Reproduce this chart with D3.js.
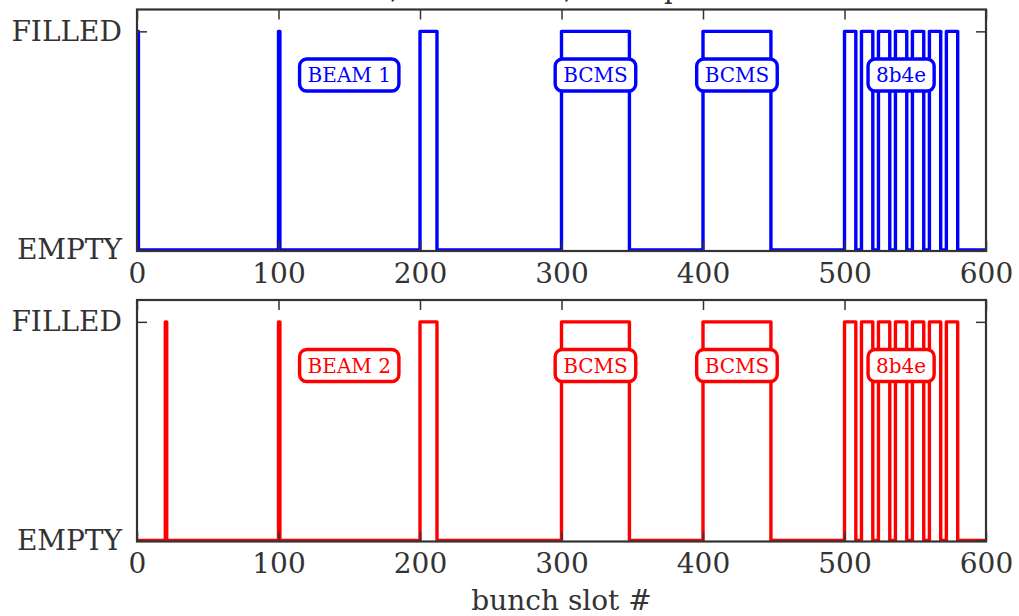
<!DOCTYPE html>
<html>
<head>
<meta charset="utf-8">
<script src="https://cdn.jsdelivr.net/npm/d3@7"></script>
<style>
  body { margin: 0; background: #fff; }
  svg { display: block; }
  text { font-family: "DejaVu Serif", serif; }
</style>
</head>
<body>
<svg id="chart" width="1019" height="616"></svg>
<script>
// Axis ticks
const slotTicks = [0, 100, 200, 300, 400, 500, 600];
const levelValues = [0, 1];
const levelNames = ["EMPTY", "FILLED"];

// Bunch trains per beam: first slot and number of bunches
const beam1Starts  = [0, 100, 200, 300, 400, 500, 512, 524, 536, 548, 560, 572];
const beam1Lengths = [1, 1, 12, 48, 48, 8, 8, 8, 8, 8, 8, 8];
const beam2Starts  = [20, 100, 200, 300, 400, 500, 512, 524, 536, 548, 560, 572];
const beam2Lengths = [1, 1, 12, 48, 48, 8, 8, 8, 8, 8, 8, 8];

// Train annotations
const beam1Labels = ["BEAM 1", "BCMS", "BCMS", "8b4e"];
const beam2Labels = ["BEAM 2", "BCMS", "BCMS", "8b4e"];
const labelSlots  = [150, 324, 424, 540];
const labelLevel  = 0.8;

const svg = d3.select("#chart");
const left = 137, right = 986, panelH = 241.5;
const ink = "#333";

const x = d3.scaleLinear().domain([0, 600]).range([left, right]);

// title (sits mostly above the page)
svg.append("text")
  .attr("x", 193).attr("y", -2.5)
  .attr("font-size", 27).attr("fill", ink)
  .text("Mixed scheme, bunch slots, 25 ns per beam");

function trainPoints(starts, lengths) {
  const pts = [[0, 0]];
  starts.forEach((s, i) => {
    const e = s + lengths[i];
    pts.push([s, 0], [s, 1], [e, 1], [e, 0]);
  });
  pts.push([600, 0]);
  return pts;
}

function panel(id, top, starts, lengths, labels, color) {
  const bottom = top + panelH;
  const y = d3.scaleLinear().domain([-0.005, 1.1]).range([bottom, top]);
  const g = svg.append("g");

  g.append("clipPath").attr("id", "clip" + id)
    .append("rect").attr("x", left).attr("y", top)
    .attr("width", right - left).attr("height", bottom - top);

  const line = d3.line().x(d => x(d[0])).y(d => y(d[1]));
  g.append("path")
    .datum(trainPoints(starts, lengths))
    .attr("clip-path", `url(#clip${id})`)
    .attr("d", line)
    .attr("fill", "none")
    .attr("stroke", color)
    .attr("stroke-width", 3.4)
    .attr("stroke-linejoin", "round");

  // annotations
  labels.forEach((t, i) => {
    const cx = x(labelSlots[i]), cy = y(labelLevel);
    const lg = g.append("g");
    const txt = lg.append("text")
      .attr("x", cx).attr("y", cy)
      .attr("text-anchor", "middle")
      .attr("dominant-baseline", "central")
      .attr("font-size", 20)
      .attr("fill", color)
      .text(t);
    const w = txt.node().getComputedTextLength();
    lg.insert("rect", "text")
      .attr("x", cx - w / 2 - 8).attr("y", cy - 16)
      .attr("width", w + 16).attr("height", 32)
      .attr("rx", 7).attr("ry", 7)
      .attr("fill", "#fff")
      .attr("stroke", color)
      .attr("stroke-width", 3.4);
  });

  // axes with inward ticks
  const ax = g.append("g").attr("transform", `translate(0,${bottom})`)
    .call(d3.axisBottom(x).tickValues(slotTicks).tickFormat(d3.format("d"))
      .tickSizeInner(-10).tickSizeOuter(0).tickPadding(12));
  const axTop = g.append("g").attr("transform", `translate(0,${top})`)
    .call(d3.axisTop(x).tickValues(slotTicks).tickFormat("")
      .tickSizeInner(-10).tickSizeOuter(0));
  const ay = g.append("g").attr("transform", `translate(${left},0)`)
    .call(d3.axisLeft(y).tickValues(levelValues).tickFormat((d, i) => levelNames[i])
      .tickSizeInner(-10).tickSizeOuter(0).tickPadding(15));
  const ayR = g.append("g").attr("transform", `translate(${right},0)`)
    .call(d3.axisRight(y).tickValues(levelValues).tickFormat("")
      .tickSizeInner(-10).tickSizeOuter(0));

  [ax, axTop, ay, ayR].forEach(a => {
    a.select(".domain").remove();
    a.selectAll(".tick line").attr("stroke", ink).attr("stroke-width", 1.5);
    a.selectAll(".tick text").attr("font-size", 28).attr("fill", ink)
      .attr("font-family", "DejaVu Serif");
  });

  g.append("rect")
    .attr("x", left).attr("y", top)
    .attr("width", right - left).attr("height", bottom - top)
    .attr("fill", "none").attr("stroke", ink).attr("stroke-width", 2.2);
}

panel(1, 9.5, beam1Starts, beam1Lengths, beam1Labels, "#0000ff");
panel(2, 300, beam2Starts, beam2Lengths, beam2Labels, "#ff0000");

svg.append("text")
  .attr("x", (left + right) / 2).attr("y", 610)
  .attr("text-anchor", "middle")
  .attr("font-size", 28).attr("fill", ink)
  .text("bunch slot #");
</script>
</body>
</html>
